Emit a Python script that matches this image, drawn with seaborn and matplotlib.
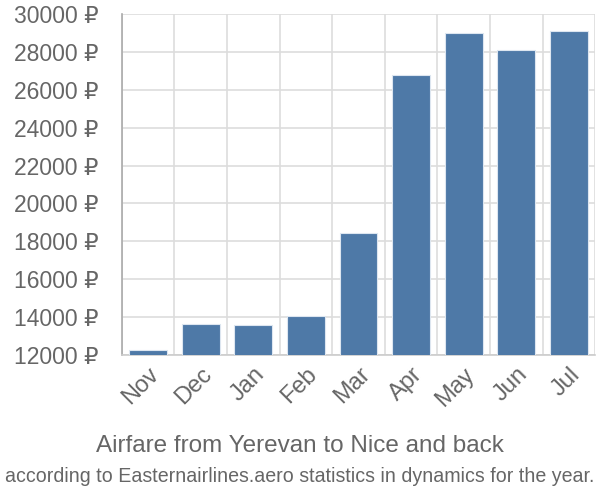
import matplotlib
matplotlib.use("Agg")
import matplotlib.pyplot as plt
import seaborn as sns
import pandas as pd
import numpy as np

months = ["Nov", "Dec", "Jan", "Feb", "Mar", "Apr", "May", "Jun", "Jul"]
prices = [12270, 13650, 13580, 14050, 18450, 26780, 28980, 28100, 29090]
yticks = [12000, 14000, 16000, 18000, 20000, 22000, 24000, 26000, 28000, 30000]
title = "Airfare from Yerevan to Nice and back"
subtitle = "according to Easternairlines.aero statistics in dynamics for the year."

sns.set_style("white")
plt.rcParams['font.family'] = ['Liberation Sans', 'DejaVu Sans']

df = pd.DataFrame({"month": months, "price": prices})

fig = plt.figure(figsize=(6, 5), dpi=100)
ax = fig.add_axes([0.203, 0.29, 0.789, 0.682])

sns.barplot(data=df, x="month", y="price", color="#4e79a7", saturation=1,
            width=0.72, edgecolor="#dde6f0", linewidth=0.8, ax=ax, zorder=3)

ax.set_ylim(12000, 30000)
ax.set_xlim(-0.5, len(months) - 0.5)
ax.set_yticks(yticks)
ax.set_yticklabels([f"{v} ₽" for v in yticks], fontsize=16.5, color="#666666")
ax.set_xticks(range(len(months)))
ax.set_xticklabels(months, rotation=45, ha="right", rotation_mode="anchor",
                   fontsize=17, color="#666666")
ax.tick_params(axis="x", which="major", length=0, pad=6)
ax.tick_params(axis="y", which="major", length=16, color="#dddddd", width=1.2, pad=1)

ax.set_xticks(np.arange(-0.5, len(months), 1.0), minor=True)
ax.tick_params(axis="x", which="minor", length=14.5, color="#dddddd", width=1.2)

ax.grid(axis="y", which="major", color="#dddddd", linewidth=1.2, zorder=0)
ax.grid(axis="x", which="minor", color="#dddddd", linewidth=1.2, zorder=0)
ax.set_axisbelow(True)

for s in ["top", "right"]:
    ax.spines[s].set_visible(False)
ax.spines["left"].set_color("#aaaaaa")
ax.spines["left"].set_linewidth(1.2)
ax.spines["bottom"].set_color("#cccccc")
ax.spines["bottom"].set_linewidth(1.2)
ax.set_xlabel("")
ax.set_ylabel("")

fig.text(0.5, 0.108, title, ha="center", va="center", fontsize=17.5, color="#666666")
fig.text(0.5, 0.048, subtitle, ha="center", va="center", fontsize=14.1, color="#666666")

fig.savefig("out.png", dpi=100)
